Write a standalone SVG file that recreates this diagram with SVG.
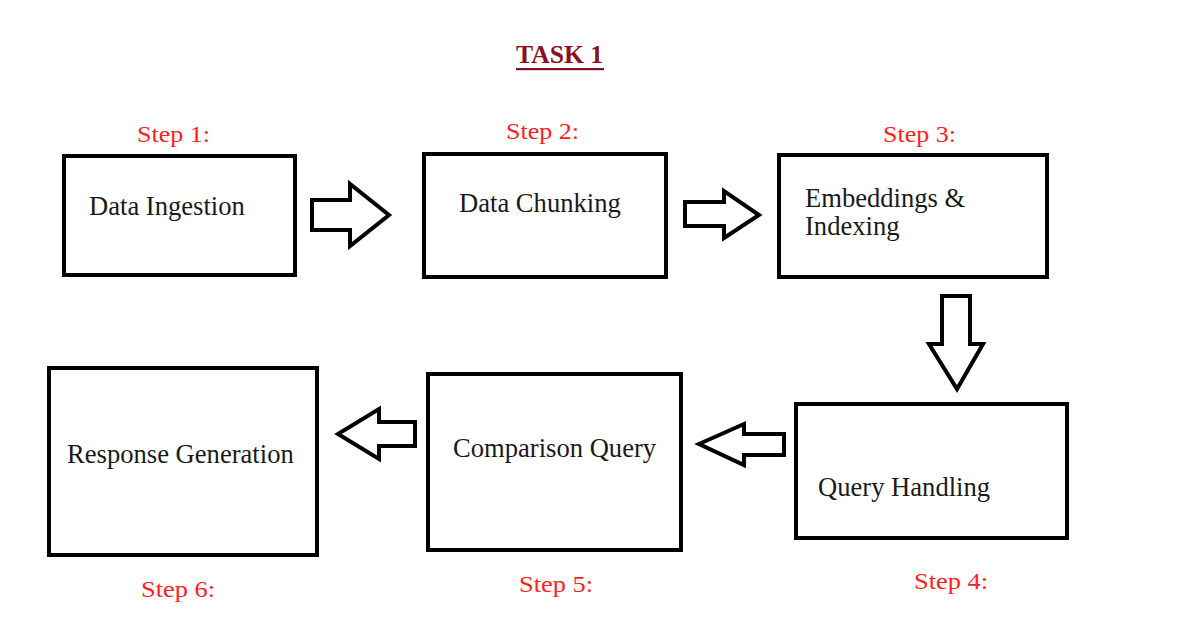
<svg xmlns="http://www.w3.org/2000/svg" width="1183" height="639" viewBox="0 0 1183 639">
<style>
.box{fill:#fff;stroke:#000;stroke-width:4}
.arr{fill:#fff;stroke:#000;stroke-width:4;stroke-linejoin:miter}
.lbl{font-family:"Liberation Serif","Times New Roman",serif;font-size:26.6px;fill:#1a1a1a}
.step{font-family:"Liberation Serif","Times New Roman",serif;font-size:23px;fill:#ff2020}
.title{font-family:"Liberation Serif","Times New Roman",serif;font-size:25px;font-weight:bold;fill:#8b0f23}
</style>
<rect width="1183" height="639" fill="#fff"/>
<g id="title">
<text class="title" x="516" y="63" textLength="87" lengthAdjust="spacingAndGlyphs">TASK 1</text>
<rect x="516" y="68" width="88" height="2.2" fill="#8b0f23"/>
</g>
<g id="node1">
<rect class="box" x="64" y="156" width="231" height="119"/>
<text class="lbl" x="89" y="215">Data Ingestion</text>
<text class="step" x="137" y="142" textLength="73" lengthAdjust="spacingAndGlyphs">Step 1:</text>
</g>
<g id="node2">
<rect class="box" x="424" y="154" width="242" height="123"/>
<text class="lbl" x="459" y="212">Data Chunking</text>
<text class="step" x="506" y="139" textLength="73" lengthAdjust="spacingAndGlyphs">Step 2:</text>
</g>
<g id="node3">
<rect class="box" x="779" y="155" width="268" height="122"/>
<text class="lbl" x="805" y="207">Embeddings &amp;</text>
<text class="lbl" x="805" y="235">Indexing</text>
<text class="step" x="883" y="142" textLength="73" lengthAdjust="spacingAndGlyphs">Step 3:</text>
</g>
<g id="node4">
<rect class="box" x="796" y="404" width="271" height="134"/>
<text class="lbl" x="818" y="496">Query Handling</text>
<text class="step" x="914" y="589" textLength="74" lengthAdjust="spacingAndGlyphs">Step 4:</text>
</g>
<g id="node5">
<rect class="box" x="428" y="374" width="253" height="176"/>
<text class="lbl" x="453" y="457">Comparison Query</text>
<text class="step" x="519" y="592" textLength="74" lengthAdjust="spacingAndGlyphs">Step 5:</text>
</g>
<g id="node6">
<rect class="box" x="49" y="368" width="268" height="187"/>
<text class="lbl" x="67" y="463">Response Generation</text>
<text class="step" x="141" y="597" textLength="74" lengthAdjust="spacingAndGlyphs">Step 6:</text>
</g>
<g id="connectors">
<polygon class="arr" points="312,200 350,200 350,184 389,215 350,246 350,230 312,230"/>
<polygon class="arr" points="685,202 724,202 724,191 759,215 724,238 724,226 685,226"/>
<polygon class="arr" points="942,296 970,296 970,344 983,344 957,389 929,344 942,344"/>
<polygon class="arr" points="784,434 744,434 744,424 699,444 744,465 744,455 784,455"/>
<polygon class="arr" points="415,422 379,422 379,409 338,434 379,459 379,446 415,446"/>
</g>
</svg>
